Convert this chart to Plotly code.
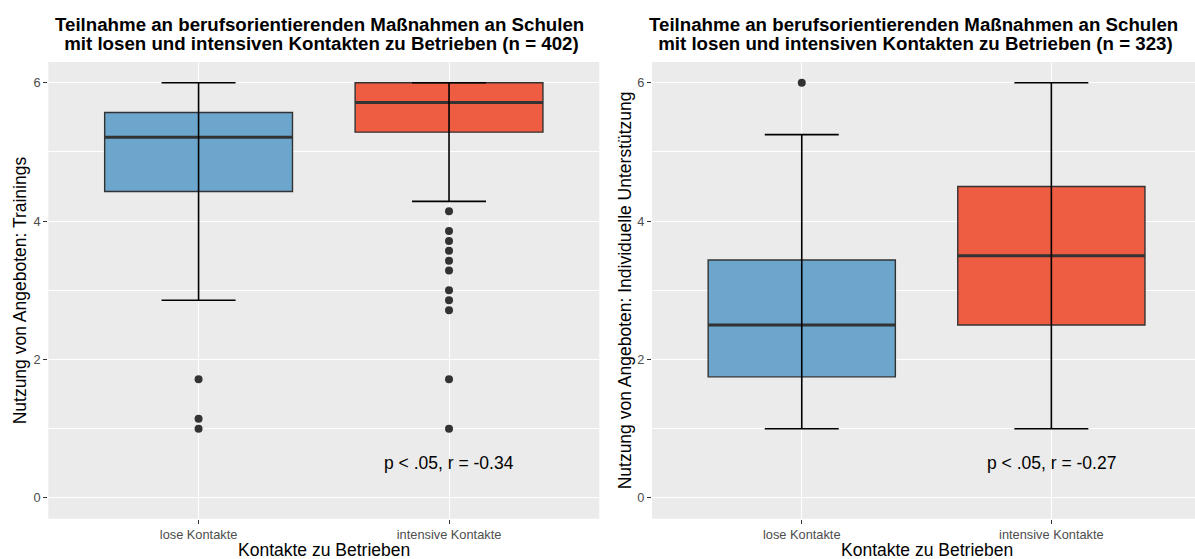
import plotly.graph_objects as go

# ---------------- data ----------------
groups = ["lose Kontakte", "intensive Kontakte"]
group_pos = [1, 2]
fill_colors = ["#6CA6CD", "#EE5C42"]

titles = [
    ["Teilnahme an berufsorientierenden Maßnahmen an Schulen",
     "\u00a0mit losen und intensiven Kontakten zu Betrieben (n = 402)"],
    ["Teilnahme an berufsorientierenden Maßnahmen an Schulen",
     "\u00a0mit losen und intensiven Kontakten zu Betrieben (n = 323)"],
]
y_titles = ["Nutzung von Angeboten: Trainings",
            "Nutzung von Angeboten: Individuelle Unterstützung"]
x_title = "Kontakte zu Betrieben"
stats_text = ["p < .05, r = -0.34", "p < .05, r = -0.27"]
stats_y = 0.5

# panel 1: Trainings
tr_q1 = [4.429, 5.286]
tr_median = [5.214, 5.714]
tr_q3 = [5.571, 6.0]
tr_lower = [2.857, 4.286]
tr_upper = [6.0, 6.0]
tr_out_lose = [1.714, 1.143, 1.0]
tr_out_int = [4.143, 3.857, 3.714, 3.571, 3.429, 3.286, 3.0, 2.857, 2.714, 1.714, 1.0]

# panel 2: Individuelle Unterstützung
iu_q1 = [1.75, 2.5]
iu_median = [2.5, 3.5]
iu_q3 = [3.438, 4.5]
iu_lower = [1.0, 1.0]
iu_upper = [5.25, 6.0]
iu_out_lose = [6.0]
iu_out_int = []

y_ticks = [0, 2, 4, 6]

panels = [
    dict(q1=tr_q1, med=tr_median, q3=tr_q3, lo=tr_lower, hi=tr_upper,
         outs=[tr_out_lose, tr_out_int]),
    dict(q1=iu_q1, med=iu_median, q3=iu_q3, lo=iu_lower, hi=iu_upper,
         outs=[iu_out_lose, iu_out_int]),
]

# ---------------- figure ----------------
W, H = 1195, 559
FONT = "Liberation Sans, Arial, Helvetica, sans-serif"
BOX_W = 0.75

fig = go.Figure()

for p, d in enumerate(panels):
    xa = "x" if p == 0 else "x2"
    ya = "y" if p == 0 else "y2"
    for i in range(2):
        c = group_pos[i]
        fig.add_trace(go.Box(
            x=[c], q1=[d["q1"][i]], median=[d["med"][i]], q3=[d["q3"][i]],
            lowerfence=[d["q1"][i]], upperfence=[d["q3"][i]],
            width=BOX_W, fillcolor=fill_colors[i],
            line=dict(color="#333333", width=1.4),
            boxpoints=False, xaxis=xa, yaxis=ya, showlegend=False,
            hoverinfo="skip"))
        fig.add_trace(go.Scatter(
            x=[c - BOX_W / 2, c + BOX_W / 2], y=[d["med"][i], d["med"][i]],
            mode="lines", line=dict(color="#333333", width=3),
            xaxis=xa, yaxis=ya, showlegend=False, hoverinfo="skip"))
        fig.add_trace(go.Scatter(
            x=[c], y=[d["med"][i]], mode="markers",
            marker=dict(size=1, opacity=0),
            error_y=dict(type="data", symmetric=False,
                         array=[d["hi"][i] - d["med"][i]],
                         arrayminus=[d["med"][i] - d["lo"][i]],
                         width=37, thickness=1.6, color="black"),
            xaxis=xa, yaxis=ya, showlegend=False, hoverinfo="skip"))
        if d["outs"][i]:
            fig.add_trace(go.Scatter(
                x=[c] * len(d["outs"][i]), y=d["outs"][i], mode="markers",
                marker=dict(size=8, color="#333333"),
                xaxis=xa, yaxis=ya, showlegend=False, hoverinfo="skip"))

axis_common = dict(
    showline=False, zeroline=False, ticks="outside", ticklen=4,
    tickwidth=1, tickcolor="#333333",
    tickfont=dict(family=FONT, size=12.8, color="#4D4D4D"),
    showgrid=True, gridcolor="white", gridwidth=1.3,
)

x_domains = [[48.3 / W, 599.3 / W], [652 / W, 1.0]]
x_ranges = [[0.4, 2.6], [0.4, 0.4 + (W - 652) / 249.6]]
y_domain = [1 - 518.7 / H, 1 - 62 / H]

fig.update_layout(
    width=W, height=H,
    margin=dict(l=0, r=0, t=0, b=0),
    paper_bgcolor="white", plot_bgcolor="#EBEBEB",
    showlegend=False,
    xaxis=dict(domain=x_domains[0], range=x_ranges[0], tickvals=group_pos,
               ticktext=groups, anchor="y", **axis_common),
    xaxis2=dict(domain=x_domains[1], range=x_ranges[1], tickvals=group_pos,
                ticktext=groups, anchor="y2", **axis_common),
    yaxis=dict(domain=y_domain, range=[-0.3, 6.3], tickvals=y_ticks,
               anchor="x",
               minor=dict(dtick=1, tick0=0, showgrid=True, gridcolor="white",
                          gridwidth=0.6, ticks=""),
               **axis_common),
    yaxis2=dict(domain=y_domain, range=[-0.3, 6.3], tickvals=y_ticks,
                anchor="x2",
                minor=dict(dtick=1, tick0=0, showgrid=True, gridcolor="white",
                           gridwidth=0.6, ticks=""),
                **axis_common),
)

annotations = []
title_centers = [319 / W, 913 / W]
ytitle_x = [20 / W, 625 / W]
for p in range(2):
    xa = "x" if p == 0 else "x2"
    ya = "y" if p == 0 else "y2"
    for j, line in enumerate(titles[p]):
        annotations.append(dict(
            text=f"<b>{line}</b>", xref="paper", yref="paper",
            x=title_centers[p], y=1 - (24.5 + 18.6 * j) / H,
            xanchor="center", yanchor="middle", showarrow=False,
            font=dict(family=FONT, size=18.7, color="black")))
    annotations.append(dict(
        text=y_titles[p], xref="paper", yref="paper",
        x=ytitle_x[p], y=(y_domain[0] + y_domain[1]) / 2,
        xanchor="center", yanchor="middle", textangle=-90, showarrow=False,
        font=dict(family=FONT, size=17.5, color="black")))
    annotations.append(dict(
        text=x_title, xref="paper", yref="paper",
        x=(48.3 + 0.6 * 250.5 + 0.5 * 250.5) / W if p == 0 else (802 + 125) / W,
        y=1 - 549.5 / H, xanchor="center", yanchor="middle", showarrow=False,
        font=dict(family=FONT, size=17.5, color="black")))
    annotations.append(dict(
        text=stats_text[p], xref=xa, yref=ya, x=group_pos[1], y=stats_y,
        xanchor="center", yanchor="middle", showarrow=False,
        font=dict(family=FONT, size=17.5, color="black")))

fig.update_layout(annotations=annotations)

fig.write_html(
    "out.html",
    config={"displayModeBar": False},
    post_script="document.body.style.margin='0';document.body.style.padding='0';",
)
